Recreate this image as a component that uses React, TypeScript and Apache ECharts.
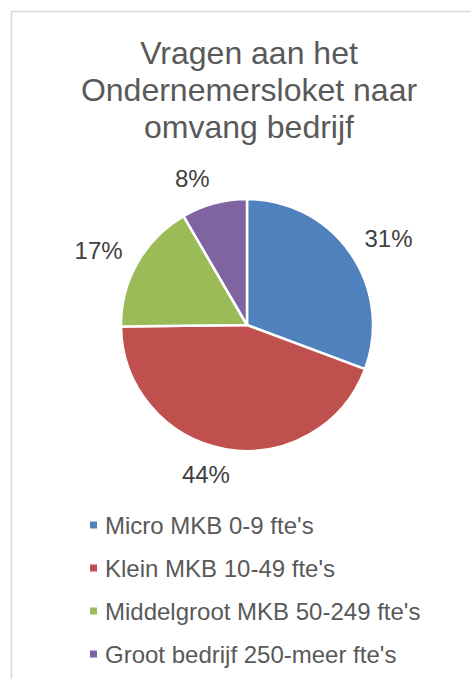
import React, { useEffect, useRef } from "react";
import * as echarts from "echarts";

const titleLines = ["Vragen aan het", "Ondernemersloket naar", "omvang bedrijf"];
const categories = [
  "Micro MKB 0-9 fte's",
  "Klein MKB 10-49 fte's",
  "Middelgroot MKB 50-249 fte's",
  "Groot bedrijf 250-meer fte's",
];
const values = [30.7, 44.1, 16.8, 8.4];
const colors = ["#4f81bd", "#c0504d", "#9bbb59", "#8064a2"];

const CX = 247;
const CY = 325;
const R = 126;
const LABEL_FS = 24;

export default function App() {
  const ref = useRef<HTMLDivElement>(null);
  useEffect(() => {
    if (!ref.current) return;
    const chart = echarts.init(ref.current, null, { renderer: "svg" });
    const total = values.reduce((a, b) => a + b, 0);
    const mids: number[] = [];
    let acc = 0;
    values.forEach((v) => {
      mids.push(((acc + v / 2) / total) * Math.PI * 2);
      acc += v;
    });
    chart.setOption({
      animation: false,
      backgroundColor: "#ffffff",
      graphic: [
        {
          type: "rect",
          shape: { x: 11.5, y: 11.5, width: 480, height: 700 },
          style: { fill: "none", stroke: "#d9d9d9", lineWidth: 1.5 },
          silent: true,
        },
        {
          type: "text",
          x: 249,
          y: 34,
          style: {
            text: titleLines.join("\n"),
            textAlign: "center",
            textVerticalAlign: "top",
            fontSize: 32,
            lineHeight: 37,
            fontFamily: "Liberation Sans, Arial, sans-serif",
            fill: "#595959",
          },
        },
      ],
      legend: {
        orient: "vertical",
        left: 88,
        top: 513,
        padding: 0,
        itemWidth: 9,
        itemHeight: 9,
        itemGap: 19,
        icon: "rect",
        data: categories,
        textStyle: {
          fontSize: 24,
          lineHeight: 24,
          color: "#595959",
          fontFamily: "Liberation Sans, Arial, sans-serif",
          padding: [0, 0, 0, 2],
        },
      },
      series: [
        {
          type: "pie",
          center: [CX, CY],
          radius: R,
          startAngle: 90,
          clockwise: true,
          avoidLabelOverlap: false,
          itemStyle: { borderColor: "#ffffff", borderWidth: 2.5 },
          label: {
            show: true,
            position: "outside",
            formatter: (p: any) => Math.round(p.value) + "%",
            fontSize: LABEL_FS,
            color: "#404040",
            fontFamily: "Liberation Sans, Arial, sans-serif",
          },
          labelLine: { show: false },
          labelLayout: (p: any) => {
            const a = mids[p.dataIndex];
            const sx = Math.sin(a);
            const cy = -Math.cos(a);
            const hw = p.labelRect.width / 2;
            const hh = LABEL_FS * 0.36;
            const d0 = R + 17;
            const px = CX + d0 * sx;
            const py = CY + d0 * cy;
            return {
              x: px + hw * Math.sign(sx) * Math.min(1, Math.abs(sx) * 4),
              y: py + hh * cy,
              align: "center",
              verticalAlign: "middle",
            };
          },
          data: categories.map((c, i) => ({
            name: c,
            value: values[i],
            itemStyle: { color: colors[i] },
          })),
        },
      ],
    });
    return () => chart.dispose();
  }, []);
  return (
    <div
      ref={ref}
      style={{ position: "absolute", left: 0, top: 0, width: 471, height: 679 }}
    />
  );
}
